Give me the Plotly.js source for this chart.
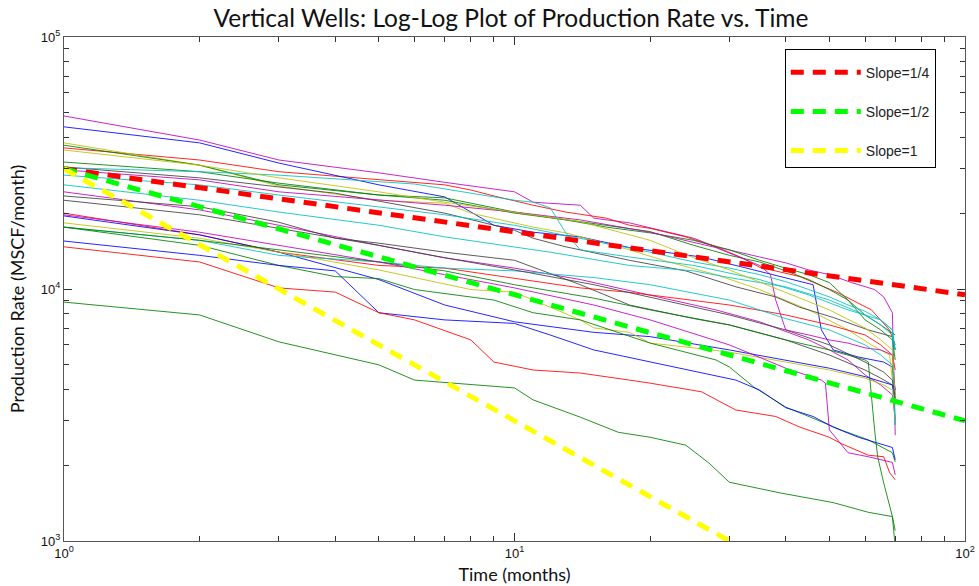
<!DOCTYPE html>
<html>
<head>
<meta charset="utf-8">
<script src="https://cdn.plot.ly/plotly-3.0.1.min.js"></script>
<style>html,body{margin:0;padding:0;background:#fff;}#chart{width:979px;height:586px;}</style>
</head>
<body>
<div id="chart"></div>
<script>
// ---- Reference slope lines (endpoints) ----
const slopeNames = ['Slope=1/4', 'Slope=1/2', 'Slope=1'];
const slopeT = [1, 100];
const slopeQ14 = [30000, 9487];
const slopeQ12 = [30000, 3000];
const slopeQ1 = [30000, 300];

// ---- Well production data (months, MSCF/month) ----
const wellT01 = [1,2,3,5,7,10,11,14,15,18,25,28,35,40,45,50,56,63,66,69,70];
const wellQ01 = [48600,39000,32500,28900,26500,24300,22100,21500,19100,18300,15900,14700,13400,12700,11900,11400,10600,9950,9300,8050,2630];
const wellT02 = [1,2,3,5,7,8,9,11,13,16,18,20,24,28,32,35,43,52,62,68,70];
const wellQ02 = [36300,32500,29200,27100,25900,24700,23400,21500,20200,19100,17900,17400,16100,14700,13300,12200,11200,9700,8260,6880,6000];
const wellT03 = [1,2,3,4,5,7,8,9,11,14,18,26,34,43,46,48,51,58,66,69,70];
const wellQ03 = [44000,38000,31600,28300,25900,23200,20200,17900,16800,16100,14600,13400,11900,10700,10400,6880,5730,5370,5130,4900,3970];
const wellT04 = [1,2,3,5,7,8,11,13,18,22,28,35,45,55,62,68,70];
const wellQ04 = [38000,31000,25600,22500,21900,20000,17600,16700,14300,12800,11400,9950,8260,6880,6000,5470,3460];
const wellT05 = [1,2,3,5,7,10,13,16,20,25,30,35,40,45,50,55,60,65,69,70];
const wellQ05 = [37200,31000,25900,23600,23000,20200,18800,17600,16700,15600,14300,13000,12100,11400,10600,9040,7540,6880,6280,5230];
const wellT06 = [1,2,3,5,7,10,14,20,25,30,35,40,45,50,55,60,65,70];
const wellQ06 = [31900,29200,26300,23600,22500,20000,18500,16900,14900,13600,12800,11800,10900,9950,9040,7890,7200,6570];
const wellT07 = [1,2,3,4,7,10,11,13,18,24,31,38,43,51,61,69,70];
const wellQ07 = [30500,27600,25400,24000,20000,17100,15900,14700,13000,11800,10200,9300,8460,7710,6880,6470,5730];
const wellT08 = [1,2,3,6,10,11,12,13,14,18,25,35,45,55,65,69,70];
const wellQ08 = [30300,29200,28300,26100,22500,22100,21000,16700,14300,13400,12400,10900,9470,8260,7540,6880,2890];
const wellT09 = [1,2,3,5,7,10,14,20,28,35,37,38,40,45,50,55,60,65,69,70];
const wellQ09 = [29700,27100,24300,22500,21500,20200,18800,16800,14600,12400,11400,9040,6880,6570,6280,6100,5840,5730,5470,3800];
const wellT10 = [1,2,3,5,7,10,12,18,25,30,40,50,60,65,69,70];
const wellQ10 = [25900,22500,20200,17900,16100,14700,14000,12400,11800,11100,10200,9040,7890,7200,6570,5730];
const wellT11 = [1,2,3,5,7,10,14,20,28,35,45,50,55,60,65,69,70];
const wellQ11 = [24300,20600,17900,14900,13300,12100,10900,9470,8260,7410,6280,5730,5230,4560,4160,3800,3020];
const wellT12 = [1,2,3,4,5,7,10,14,18,25,30,40,50,60,65,69,70];
const wellQ12 = [23400,21200,18400,15900,15200,14000,13000,10400,8640,7630,7200,6280,5470,4770,4430,4160,3630];
const wellT13 = [1,2,3,5,7,10,14,18,25,30,40,50,60,65,69,70];
const wellQ13 = [20000,16400,14000,12400,12100,11000,10100,9700,9040,8640,7890,7200,6570,6000,5470,4770];
const wellT14 = [1,2,3,5,7,10,15,20,30,40,50,60,66,69,70];
const wellQ14 = [19500,16400,14000,10900,8640,7410,6730,6470,5730,5230,4850,4490,4250,4160,3630];
const wellT15 = [1,2,3,5,8,10,14,15,18,20,25,30,40,50,60,66,69,70];
const wellQ15 = [18300,15900,14000,11900,9950,9720,7540,7010,6730,6100,5840,5620,5130,4770,4430,4160,3970,3020];
const wellT16 = [1,2,3,5,7,10,15,20,30,40,50,60,65,69,70];
const wellQ16 = [17600,15600,13600,12800,12100,11800,11100,10400,9040,7630,6880,6000,5470,4990,2890];
const wellT17 = [1,2,3,4,5,6,9,11,14,20,28,30,34,40,46,53,61,69,70];
const wellQ17 = [17600,14900,12400,11200,11000,9950,9040,8050,7540,6100,5230,4900,4080,3400,3070,2760,2520,2240,2060];
const wellT18 = [1,2,3,4,5,7,10,12,15,20,24,31,35,40,46,51,58,69,70];
const wellQ18 = [15500,13600,12400,11800,8050,7540,7300,6570,5730,5130,4770,4350,3970,3380,3120,2830,2580,2350,2100];
const wellT19 = [1,2,3,4,5,6,8,9,11,14,18,20,26,31,38,43,50,53,61,66,68,70];
const wellQ19 = [14700,12800,10100,9720,8050,7540,6280,5130,4770,4640,4350,4230,3910,3310,3120,2830,2580,2440,2190,2160,1870,1750];
const wellT20 = [1,2,3,4,5,6,7,10,11,14,17,20,24,27,30,39,51,61,69,70];
const wellQ20 = [8870,7890,6170,5470,5000,4350,4260,4050,3630,3100,2700,2580,2400,2040,1710,1550,1420,1300,1250,950];
const wellT21 = [1,2,3,5,7,10,15,20,30,40,50,60,61,62,63,64,66,69,70];
const wellQ21 = [17600,15600,14300,12800,11800,10400,9200,8260,7200,6280,5730,5230,5130,3720,2760,2160,1700,1250,1100];
const wellT22 = [1,2,3,5,7,10,14,20,25,30,35,40,45,50,55,60,65,69,70];
const wellQ22 = [28300,25900,23600,21200,19700,17900,15900,14000,12800,12100,11400,10700,9950,9300,8640,8160,7540,6880,5730];
const wellT23 = [1,2,3,5,7,10,14,20,25,30,40,50,60,65,69,70];
const wellQ23 = [35600,31000,27600,24300,22100,20200,18500,15600,13300,11900,9720,8260,7010,6280,5730,3630];
const wellT24 = [1,2,3,5,7,10,15,20,30,40,50,60,66,69,70];
const wellQ24 = [22500,19700,17400,14900,13300,11900,10400,9300,7890,6880,6000,5130,4680,4350,3700];
const wellT25 = [1,2,3,5,7,10,15,20,30,40,48,49,50,55,61,69,70];
const wellQ25 = [19700,16800,14900,12800,11400,10100,8640,7540,6000,4850,4350,4230,2760,2240,2160,2050,1830];

const wellTs = [wellT01,wellT02,wellT03,wellT04,wellT05,wellT06,wellT07,wellT08,wellT09,wellT10,wellT11,wellT12,wellT13,wellT14,wellT15,wellT16,wellT17,wellT18,wellT19,wellT20,wellT21,wellT22,wellT23,wellT24,wellT25];
const wellQs = [wellQ01,wellQ02,wellQ03,wellQ04,wellQ05,wellQ06,wellQ07,wellQ08,wellQ09,wellQ10,wellQ11,wellQ12,wellQ13,wellQ14,wellQ15,wellQ16,wellQ17,wellQ18,wellQ19,wellQ20,wellQ21,wellQ22,wellQ23,wellQ24,wellQ25];
const wellColorKeys = ['m','r','b','y','g','g','k','c','m','c','m','k','r','b','y','c','g','b','r','g','g','c','y','k','m'];

const palette = {b:'#0000ff', g:'#008000', r:'#ff0000', c:'#00bfbf', m:'#bf00bf', y:'#bfbf00', k:'#404040'};

const traces = [];
for (let i = 0; i < wellTs.length; i++) {
  traces.push({
    x: wellTs[i], y: wellQs[i], type: 'scatter', mode: 'lines',
    line: {color: palette[wellColorKeys[i]], width: 1},
    opacity: 0.85, showlegend: false, hoverinfo: 'skip'
  });
}
const slopeQs = [slopeQ14, slopeQ12, slopeQ1];
const slopeColors = ['#ff0000', '#00ff00', '#ffff00'];
for (let i = 0; i < 3; i++) {
  traces.push({
    x: slopeT, y: slopeQs[i], type: 'scatter', mode: 'lines', name: slopeNames[i],
    legendgroup: 'g' + i,
    line: {color: slopeColors[i], width: 5, dash: '13px,9px'},
    hoverinfo: 'skip'
  });
}

const axisCommon = {
  type: 'log', showgrid: false, zeroline: false,
  showline: true, linecolor: '#555', linewidth: 1, mirror: 'allticks',
  ticks: 'inside', ticklen: 8, tickwidth: 1, tickcolor: '#333',
  tickfont: {family: 'Liberation Sans, Arial, sans-serif', size: 13, color: '#111'},
  minor: {ticks: 'inside', ticklen: 5, tickcolor: '#333', dtick: 'D1', showgrid: false}
};

const layout = {
  width: 979, height: 586,
  margin: {l: 64, r: 14, t: 37, b: 45},
  paper_bgcolor: '#fff', plot_bgcolor: '#fff',
  title: {text: 'Vertical Wells: Log-Log Plot of Production Rate vs. Time',
          font: {family: 'Lato, sans-serif', size: 24.5, color: '#111'},
          x: 0.522, xref: 'container', y: 0.968, yref: 'container', yanchor: 'middle', xanchor: 'center'},
  xaxis: Object.assign({}, axisCommon, {
    range: [0, 2], tickmode: 'array', tickvals: [1, 10, 100],
    ticktext: ['10<sup>0</sup>', '10<sup>1</sup>', '10<sup>2</sup>'],
    title: {text: 'Time (months)', font: {family: 'Lato, sans-serif', size: 18, color: '#111'}, standoff: 8}
  }),
  yaxis: Object.assign({}, axisCommon, {
    range: [3, 5], tickmode: 'array', tickvals: [1000, 10000, 100000],
    ticktext: ['10<sup>3</sup>', '10<sup>4</sup>', '10<sup>5</sup>'],
    title: {text: 'Production Rate (MSCF/month)', font: {family: 'Lato, sans-serif', size: 18, color: '#111'}, standoff: 11}
  }),
  legend: {
    x: 0.800, y: 0.976, xanchor: 'left', yanchor: 'top',
    bgcolor: '#fff', bordercolor: '#000', borderwidth: 1,
    font: {family: 'Liberation Sans, Arial, sans-serif', size: 14, color: '#222'},
    title: {text: ' ', font: {size: 5}},
    traceorder: 'grouped', tracegroupgap: 18, itemwidth: 70,
    entrywidth: 212, entrywidthmode: 'pixels'
  },
  showlegend: true
};

Plotly.newPlot('chart', traces, layout, {staticPlot: true, displayModeBar: false});
</script>
</body>
</html>
